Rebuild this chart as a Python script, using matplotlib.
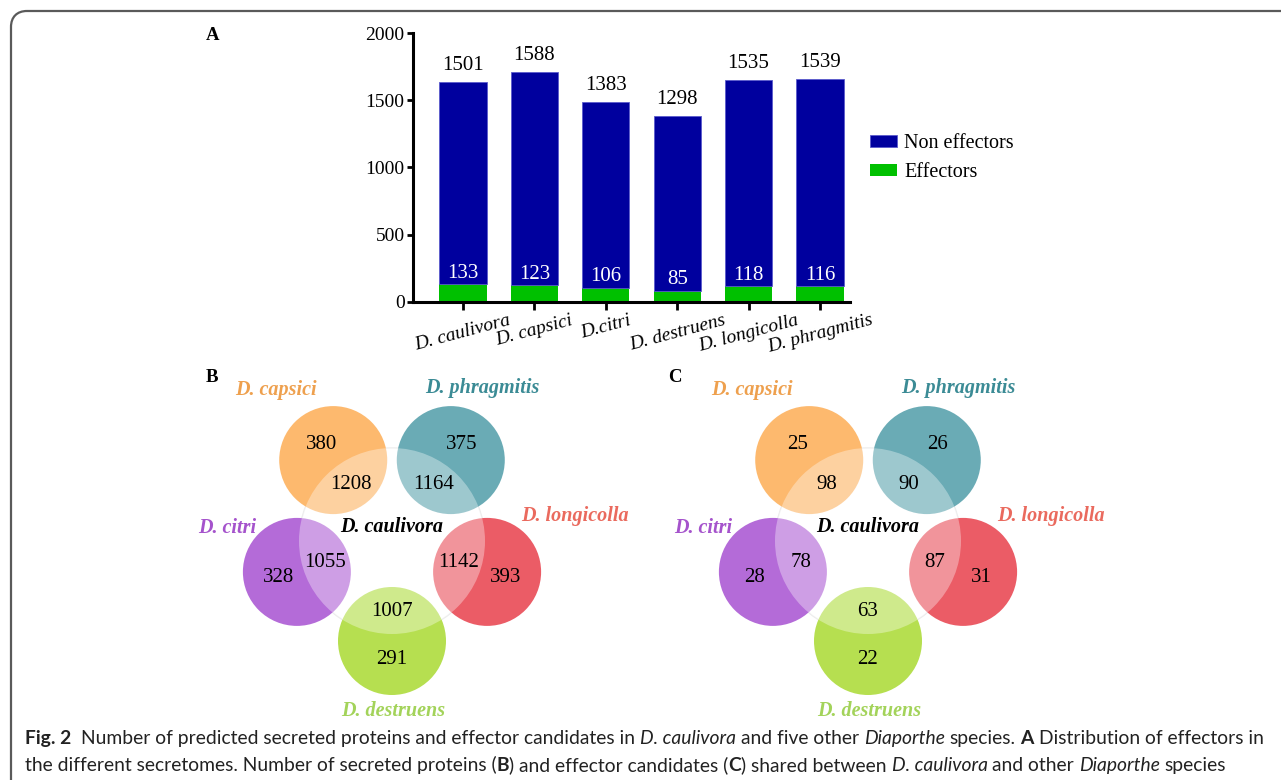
import numpy as np
import matplotlib.pyplot as plt
from matplotlib.patches import Circle, PathPatch
from matplotlib.path import Path

# panel A data
species = ['D. caulivora', 'D. capsici', 'D.citri', 'D. destruens', 'D. longicolla', 'D. phragmitis']
non_effectors = [1501, 1588, 1383, 1298, 1535, 1539]
effectors = [133, 123, 106, 85, 118, 116]

# venn petals (order: capsici, phragmitis, longicolla, destruens, citri)
petals = ['D. capsici', 'D. phragmitis', 'D. longicolla', 'D. destruens', 'D. citri']
secreted_unique = [380, 375, 393, 291, 328]
secreted_shared = [1208, 1164, 1142, 1007, 1055]
effector_unique = [25, 26, 31, 22, 28]
effector_shared = [98, 90, 87, 63, 78]

petal_fill = ['#fdb96e', '#6aabb5', '#eb5c66', '#b6df50', '#b46bd8']
petal_text = ['#eea04e', '#3b8b95', '#ea6a5e', '#a3d35a', '#a553cc']

W, H = 1281, 780
plt.rcParams['font.family'] = ['Liberation Serif', 'DejaVu Serif']
fig = plt.figure(figsize=(W / 100, H / 100), dpi=100)

# full-figure layer in pixel units for venns, frame and caption
ov = fig.add_axes([0, 0, 1, 1])
ov.set_xlim(0, W)
ov.set_ylim(H, 0)
ov.axis('off')

# frame with rounded corner
verts = [(11, H + 5), (11, 27), (11, 17), (17, 11), (27, 11), (W + 5, 11)]
codes = [Path.MOVETO, Path.LINETO, Path.CURVE4, Path.CURVE4, Path.CURVE4, Path.LINETO]
ov.add_patch(PathPatch(Path(verts, codes), fill=False, ec='#5a5a5a', lw=1.6))

# ---- panel A: stacked bars ----
ax = fig.add_axes([413 / W, 1 - 302 / H, 437 / W, 269 / H])
x = np.arange(len(species))
bw = 0.66
ax.bar(x, effectors, bw, color='#00c000', label='Effectors', zorder=2)
ax.bar(x, non_effectors, bw, bottom=effectors, color='#00009e', edgecolor='#5a5acc',
       lw=0.6, label='Non effectors', zorder=2)
for i in range(len(x)):
    ax.annotate(str(non_effectors[i]), (x[i], effectors[i] + non_effectors[i]),
                xytext=(0, 5), textcoords='offset points', ha='center', va='bottom', fontsize=15)
    ax.annotate(str(effectors[i]), (x[i], effectors[i]), xytext=(0, 1),
                textcoords='offset points', ha='center', va='bottom', fontsize=15, color='white')
ax.set_xlim(-0.70, 5.42)
ax.set_ylim(0, 2000)
ax.set_yticks([0, 500, 1000, 1500, 2000])
ax.set_xticks(x)
ax.set_xticklabels(species, rotation=15, fontsize=14, style='italic')
ax.tick_params(axis='y', labelsize=14, length=4, width=2, pad=2)
ax.tick_params(axis='x', length=6, width=2, pad=1)
for s in ['top', 'right']:
    ax.spines[s].set_visible(False)
for s in ['left', 'bottom']:
    ax.spines[s].set_linewidth(2.2)
h, l = ax.get_legend_handles_labels()
ax.legend(h[::-1], l[::-1], loc='upper left', bbox_to_anchor=(852 / W, 1 - 116 / H),
          bbox_transform=fig.transFigure, frameon=False, fontsize=14.5,
          handlelength=1.35, handleheight=0.5, handletextpad=0.35, labelspacing=0.5)

ov.text(206, 35, 'A', fontsize=13.5, weight='bold', va='center')
ov.text(206, 378, 'B', fontsize=13.5, weight='bold', va='center')
ov.text(668, 378, 'C', fontsize=13.5, weight='bold', va='center')

# ---- panels B and C: flower venns ----
angles = np.deg2rad([126, 54, 342, 270, 198])
label_off = [(-116, -151), (90, -153), (183, -25), (1, 170), (-165, -13)]


def flower(cx, cy, unique, shared):
    ov.add_patch(Circle((cx, cy), 93, fill=False, ec='#ebebeb', lw=1, zorder=1))
    for k in range(5):
        px = cx + 100 * np.cos(angles[k])
        py = cy - 100 * np.sin(angles[k])
        ov.add_patch(Circle((px, py), 54, color=petal_fill[k], lw=0, zorder=2))
    ov.add_patch(Circle((cx, cy), 93, fc='white', alpha=0.35, lw=0, zorder=3))
    for k in range(5):
        ux = cx + 119 * np.cos(angles[k])
        uy = cy - 119 * np.sin(angles[k])
        sx = cx + 70 * np.cos(angles[k])
        sy = cy - 70 * np.sin(angles[k])
        ov.text(ux, uy, str(unique[k]), fontsize=15, ha='center', va='center', zorder=4)
        ov.text(sx, sy, str(shared[k]), fontsize=15, ha='center', va='center', zorder=4)
        ov.text(cx + label_off[k][0], cy + label_off[k][1], petals[k], color=petal_text[k],
                fontsize=14.5, weight='bold', style='italic', ha='center', va='center', zorder=4)
    ov.text(cx, cy - 14, 'D. caulivora', fontsize=14.5, weight='bold', style='italic',
            ha='center', va='center', zorder=4)


flower(392, 541, secreted_unique, secreted_shared)
flower(868, 541, effector_unique, effector_shared)

# ---- caption ----
line1 = [('Fig. 2', 'bold', 'normal'),
         ('  Number of predicted secreted proteins and effector candidates in ', 'normal', 'normal'),
         ('D. caulivora', 'normal', 'italic'),
         (' and five other ', 'normal', 'normal'),
         ('Diaporthe', 'normal', 'italic'),
         (' species. ', 'normal', 'normal'),
         ('A', 'bold', 'normal'),
         (' Distribution of effectors in', 'normal', 'normal')]
line2 = [('the different secretomes. Number of secreted proteins (', 'normal', 'normal'),
         ('B', 'bold', 'normal'),
         (') and effector candidates (', 'normal', 'normal'),
         ('C', 'bold', 'normal'),
         (') shared between ', 'normal', 'normal'),
         ('D. caulivora', 'normal', 'italic'),
         (' and other ', 'normal', 'normal'),
         ('Diaporthe', 'normal', 'italic'),
         (' species', 'normal', 'normal')]

renderer = fig.canvas.get_renderer()
cap_font = 'Lato'


def width(s, size, weight, style):
    t = ov.text(0, 0, s, fontsize=size, weight=weight, style=style, family=cap_font)
    w = t.get_window_extent(renderer).width
    t.remove()
    return w


def layout(runs, size, x0=None, y=None):
    sp = width('a a', size, 'normal', 'normal') - width('aa', size, 'normal', 'normal')
    xx = 0 if x0 is None else x0
    for s, wt, st in runs:
        core = s.strip(' ')
        lead = len(s) - len(s.lstrip(' '))
        trail = len(s) - len(s.rstrip(' '))
        xx += lead * sp
        if x0 is not None:
            ov.text(xx, y, core, fontsize=size, weight=wt, style=st, family=cap_font,
                    va='baseline', color='#222222')
        xx += width(core, size, wt, st) + trail * sp
    return xx


size = 10 * (1268 - 25) / layout(line1, 10)
layout(line1, size, 25, 744)
layout(line2, size, 25, 771)

fig.savefig('out.png', dpi=100)
